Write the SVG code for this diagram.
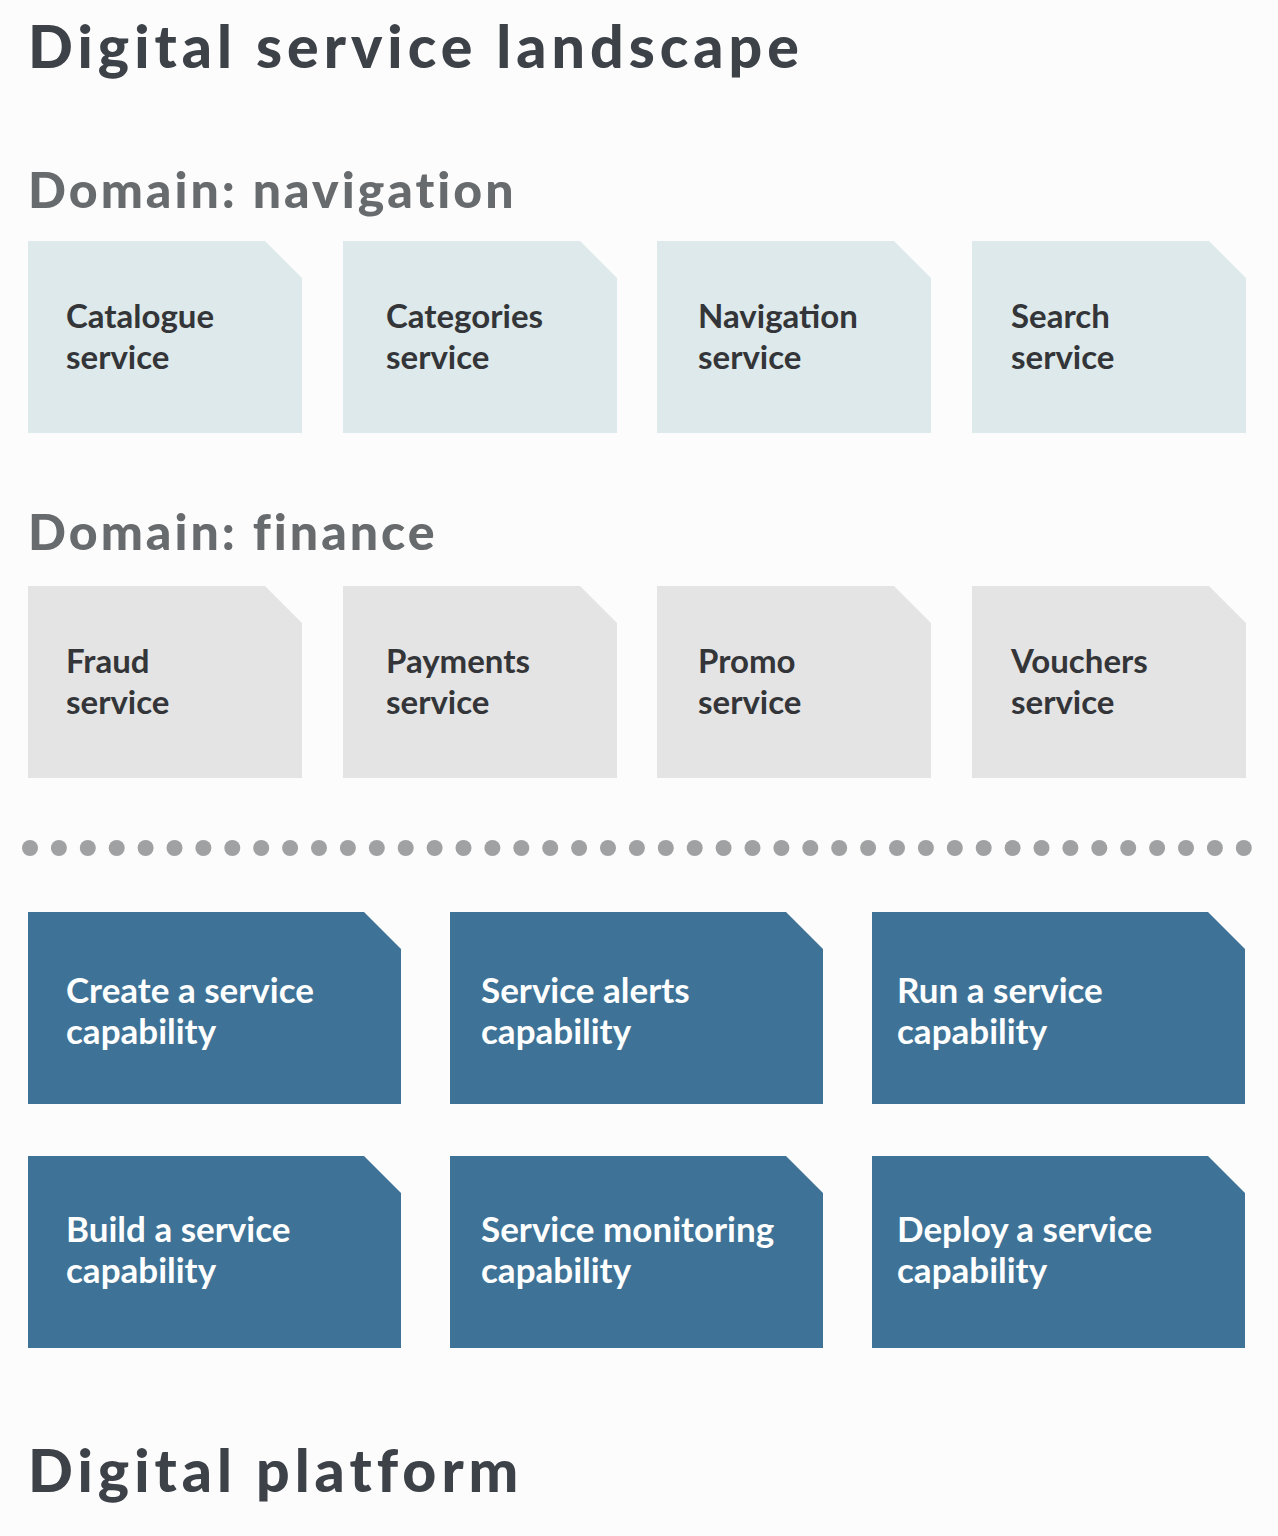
<svg xmlns="http://www.w3.org/2000/svg" width="1278" height="1536" viewBox="0 0 1278 1536">
<style>
.title{font-family:Lato,"Liberation Sans",sans-serif;font-weight:900;font-size:59px;fill:#3d4148;letter-spacing:5px}
.head{font-family:Lato,"Liberation Sans",sans-serif;font-weight:900;font-size:50px;fill:#686b6d;letter-spacing:3px}
.lbl{font-family:Lato,"Liberation Sans",sans-serif;font-weight:700;font-size:33px;fill:#333538}
.wlbl{font-family:Lato,"Liberation Sans",sans-serif;font-weight:700;font-size:35px;fill:#ffffff}
.nav{fill:#dde9ea}
.fin{fill:#e4e4e4}
.cap{fill:#3e7397}
.dot{fill:#9fa1a3}
</style>
<defs>
<path id="sbox" d="M0 0H237L274 37V192H0Z"/>
<path id="cbox" d="M0 0H336L373 37V192H0Z"/>
</defs>
<rect width="1278" height="1536" fill="#fcfcfc"/>
<text class="title" x="28" y="68">Digital service landscape</text>
<text class="head" x="28" y="208">Domain: navigation</text>
<text class="head" x="28" y="550">Domain: finance</text>

<g id="catalogue"><use href="#sbox" x="28" y="241" class="nav"/><text class="lbl" x="66" y="328">Catalogue<tspan x="66" y="369">service</tspan></text></g>
<g id="categories"><use href="#sbox" x="343" y="241" class="nav"/><text class="lbl" x="386" y="328">Categories<tspan x="386" y="369">service</tspan></text></g>
<g id="navigation"><use href="#sbox" x="657" y="241" class="nav"/><text class="lbl" x="698" y="328">Navigation<tspan x="698" y="369">service</tspan></text></g>
<g id="search"><use href="#sbox" x="972" y="241" class="nav"/><text class="lbl" x="1011" y="328">Search<tspan x="1011" y="369">service</tspan></text></g>

<g id="fraud"><use href="#sbox" x="28" y="586" class="fin"/><text class="lbl" x="66" y="673">Fraud<tspan x="66" y="714">service</tspan></text></g>
<g id="payments"><use href="#sbox" x="343" y="586" class="fin"/><text class="lbl" x="386" y="673">Payments<tspan x="386" y="714">service</tspan></text></g>
<g id="promo"><use href="#sbox" x="657" y="586" class="fin"/><text class="lbl" x="698" y="673">Promo<tspan x="698" y="714">service</tspan></text></g>
<g id="vouchers"><use href="#sbox" x="972" y="586" class="fin"/><text class="lbl" x="1011" y="673">Vouchers<tspan x="1011" y="714">service</tspan></text></g>

<g id="divider">
<circle class="dot" cx="30" cy="848" r="8"/><circle class="dot" cx="58.9" cy="848" r="8"/><circle class="dot" cx="87.8" cy="848" r="8"/><circle class="dot" cx="116.7" cy="848" r="8"/><circle class="dot" cx="145.6" cy="848" r="8"/><circle class="dot" cx="174.5" cy="848" r="8"/><circle class="dot" cx="203.4" cy="848" r="8"/><circle class="dot" cx="232.3" cy="848" r="8"/><circle class="dot" cx="261.2" cy="848" r="8"/><circle class="dot" cx="290.1" cy="848" r="8"/><circle class="dot" cx="319" cy="848" r="8"/><circle class="dot" cx="347.9" cy="848" r="8"/><circle class="dot" cx="376.8" cy="848" r="8"/><circle class="dot" cx="405.7" cy="848" r="8"/><circle class="dot" cx="434.6" cy="848" r="8"/><circle class="dot" cx="463.5" cy="848" r="8"/><circle class="dot" cx="492.4" cy="848" r="8"/><circle class="dot" cx="521.3" cy="848" r="8"/><circle class="dot" cx="550.2" cy="848" r="8"/><circle class="dot" cx="579.1" cy="848" r="8"/><circle class="dot" cx="608" cy="848" r="8"/><circle class="dot" cx="636.9" cy="848" r="8"/><circle class="dot" cx="665.8" cy="848" r="8"/><circle class="dot" cx="694.7" cy="848" r="8"/><circle class="dot" cx="723.6" cy="848" r="8"/><circle class="dot" cx="752.5" cy="848" r="8"/><circle class="dot" cx="781.4" cy="848" r="8"/><circle class="dot" cx="810.3" cy="848" r="8"/><circle class="dot" cx="839.2" cy="848" r="8"/><circle class="dot" cx="868.1" cy="848" r="8"/><circle class="dot" cx="897" cy="848" r="8"/><circle class="dot" cx="925.9" cy="848" r="8"/><circle class="dot" cx="954.8" cy="848" r="8"/><circle class="dot" cx="983.7" cy="848" r="8"/><circle class="dot" cx="1012.6" cy="848" r="8"/><circle class="dot" cx="1041.5" cy="848" r="8"/><circle class="dot" cx="1070.4" cy="848" r="8"/><circle class="dot" cx="1099.3" cy="848" r="8"/><circle class="dot" cx="1128.2" cy="848" r="8"/><circle class="dot" cx="1157.1" cy="848" r="8"/><circle class="dot" cx="1186" cy="848" r="8"/><circle class="dot" cx="1214.9" cy="848" r="8"/><circle class="dot" cx="1243.8" cy="848" r="8"/>
</g>

<g id="create"><use href="#cbox" x="28" y="912" class="cap"/><text class="wlbl" x="66" y="1003">Create a service<tspan x="66" y="1044">capability</tspan></text></g>
<g id="alerts"><use href="#cbox" x="450" y="912" class="cap"/><text class="wlbl" x="481" y="1003">Service alerts<tspan x="481" y="1044">capability</tspan></text></g>
<g id="run"><use href="#cbox" x="872" y="912" class="cap"/><text class="wlbl" x="897" y="1003">Run a service<tspan x="897" y="1044">capability</tspan></text></g>
<g id="build"><use href="#cbox" x="28" y="1156" class="cap"/><text class="wlbl" x="66" y="1242">Build a service<tspan x="66" y="1283">capability</tspan></text></g>
<g id="monitoring"><use href="#cbox" x="450" y="1156" class="cap"/><text class="wlbl" x="481" y="1242">Service monitoring<tspan x="481" y="1283">capability</tspan></text></g>
<g id="deploy"><use href="#cbox" x="872" y="1156" class="cap"/><text class="wlbl" x="897" y="1242">Deploy a service<tspan x="897" y="1283">capability</tspan></text></g>

<text class="title" x="28" y="1492">Digital platform</text>
</svg>
